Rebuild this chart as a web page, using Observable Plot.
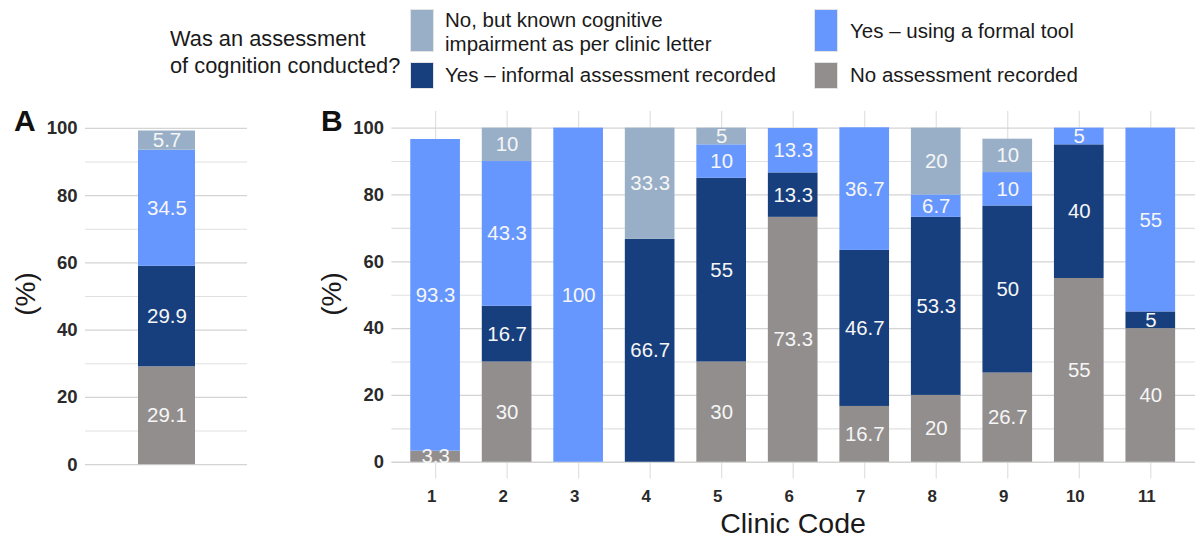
<!DOCTYPE html>
<html>
<head>
<meta charset="utf-8">
<script src="https://cdn.jsdelivr.net/npm/d3@7"></script>
<script src="https://cdn.jsdelivr.net/npm/@observablehq/plot@0.6"></script>
<style>
  html, body { margin: 0; padding: 0; background: #fff; overflow: hidden; }
  body { width: 1195px; height: 540px; position: relative; font-family: "Liberation Sans", Arial, sans-serif; color: #1a1a1a; }
  .abs { position: absolute; white-space: nowrap; }
  .sw { position: absolute; box-sizing: border-box; border: 1px solid #e4e4e4; }
  .lg { font-size: 20.5px; line-height: 24px; }
  .panel { font-size: 30px; font-weight: bold; line-height: 30px; color: #111; }
  .ylab { font-size: 28px; line-height: 30px; transform: translate(-50%, -50%) rotate(-90deg); }
</style>
</head>
<body>
<div id="legend"></div>
<div id="panelA" class="abs" style="left:0px; top:100px;"></div>
<div id="panelB" class="abs" style="left:300px; top:100px;"></div>
<div class="abs panel" style="left:14px; top:106px;">A</div>
<div class="abs panel" style="left:321px; top:106px;">B</div>
<div class="abs ylab" style="left:26px; top:294px;">(%)</div>
<div class="abs ylab" style="left:332px; top:294px;">(%)</div>
<div class="abs" style="left:793px; top:523px; transform: translate(-50%,-50%); font-size:28.5px; line-height:30px;">Clinic Code</div>
<script>
// ---- data ----
const categories = [
  "No assessment recorded",
  "Yes – informal assessment recorded",
  "Yes – using a formal tool",
  "No, but known cognitive impairment as per clinic letter"
];
const colors = ["#928e8d", "#173f7d", "#6697fe", "#99afc7"];
const clinics = ["1", "2", "3", "4", "5", "6", "7", "8", "9", "10", "11"];
const noAssessment = [3.3, 30, 0, 0, 30, 73.3, 16.7, 20, 26.7, 55, 40];
const informal     = [0, 16.7, 0, 66.7, 55, 13.3, 46.7, 53.3, 50, 40, 5];
const formalTool   = [93.3, 43.3, 100, 0, 10, 13.3, 36.7, 6.7, 10, 5, 55];
const knownImpair  = [0, 10, 0, 33.3, 5, 0, 0, 20, 10, 0, 0];
const overall      = [29.1, 29.9, 34.5, 5.7];
const yTicks = [0, 20, 40, 60, 80, 100];
const yMinor = [10, 30, 50, 70, 90];

// ---- tables ----
const series = [noAssessment, informal, formalTool, knownImpair];
const rowsB = [];
clinics.forEach((c, j) => {
  series.forEach((s, i) => {
    if (s[j] > 0) rowsB.push({clinic: c, cat: categories[i], value: s[j]});
  });
});
const rowsA = overall.map((v, i) => ({g: "All", cat: categories[i], value: v}));

const fontFamily = "'Liberation Sans', Arial, sans-serif";
const colorScale = {domain: categories, range: colors};
const yScale = {domain: [-5, 105]};

function gridMarks() {
  return [
    Plot.ruleY(yMinor, {stroke: "#e0e0e0", strokeWidth: 1.1}),
    Plot.ruleY(yTicks, {stroke: "#d4d4d4", strokeWidth: 1.3})
  ];
}
function yAxis() {
  return Plot.axisY({ticks: yTicks, tickSize: 0, tickPadding: 8, fontSize: 18.5, fontWeight: "bold", label: null, fill: "#2a2a2a"});
}

// ---- panel A ----
const plotA = Plot.plot({
  width: 260, height: 440,
  marginLeft: 85, marginRight: 13, marginTop: 11, marginBottom: 59,
  style: {fontFamily, background: "transparent", overflow: "visible"},
  x: {type: "band", domain: ["All"], paddingInner: 0, paddingOuter: 0.9, axis: null},
  y: yScale,
  color: colorScale,
  marks: [
    ...gridMarks(),
    Plot.barY(rowsA, {x: "g", y: "value", fill: "cat"}),
    Plot.text(rowsA, Plot.stackY({x: "g", y: "value", z: "cat", text: d => String(d.value), fill: "#f6f6f6", fontSize: 20.5})),
    yAxis()
  ]
});
document.getElementById("panelA").appendChild(plotA);

// ---- panel B ----
const plotB = Plot.plot({
  width: 901, height: 440,
  marginLeft: 92, marginRight: 0, marginTop: 11, marginBottom: 59,
  style: {fontFamily, background: "transparent", overflow: "visible"},
  x: {type: "band", domain: clinics, paddingInner: 0.3, paddingOuter: 0.25},
  y: yScale,
  color: colorScale,
  marks: [
    Plot.gridX({stroke: "#e0e0e0", strokeOpacity: 1, strokeWidth: 1.2}),
    ...gridMarks(),
    Plot.barY(rowsB, {x: "clinic", y: "value", fill: "cat"}),
    Plot.text(rowsB, Plot.stackY({x: "clinic", y: "value", z: "cat", text: d => String(d.value), fill: "#f6f6f6", fontSize: 20.5})),
    yAxis(),
    Plot.axisX({tickSize: 0, tickPadding: 11, fontSize: 17, fontWeight: "bold", label: null, dx: -4, fill: "#2a2a2a"})
  ]
});
document.getElementById("panelB").appendChild(plotB);

// ---- legend (HTML) ----
const legend = document.getElementById("legend");
function addDiv(cls, style, text) {
  const d = document.createElement("div");
  d.className = cls;
  d.setAttribute("style", style);
  if (text != null) d.textContent = text;
  legend.appendChild(d);
  return d;
}
addDiv("abs lg", "left:170px; top:25px; font-size:21.8px; line-height:27px;", null).innerHTML =
  "Was an assessment<br>of cognition conducted?";
const legendItems = [
  {cat: 3, x: 410, y: 9, h: 43, tx: 445, ty: 8, lines: ["No, but known cognitive", "impairment as per clinic letter"]},
  {cat: 1, x: 410, y: 62, h: 27, tx: 445, ty: 63, lines: ["Yes – informal assessment recorded"]},
  {cat: 2, x: 814, y: 9, h: 43, tx: 850, ty: 19, lines: ["Yes – using a formal tool"]},
  {cat: 0, x: 814, y: 62, h: 27, tx: 850, ty: 63, lines: ["No assessment recorded"]}
];
legendItems.forEach(it => {
  addDiv("sw", `left:${it.x}px; top:${it.y}px; width:24px; height:${it.h}px; background:${colors[it.cat]};`);
  addDiv("abs lg", `left:${it.tx}px; top:${it.ty}px;`, null).innerHTML = it.lines.join("<br>");
});
</script>
</body>
</html>
